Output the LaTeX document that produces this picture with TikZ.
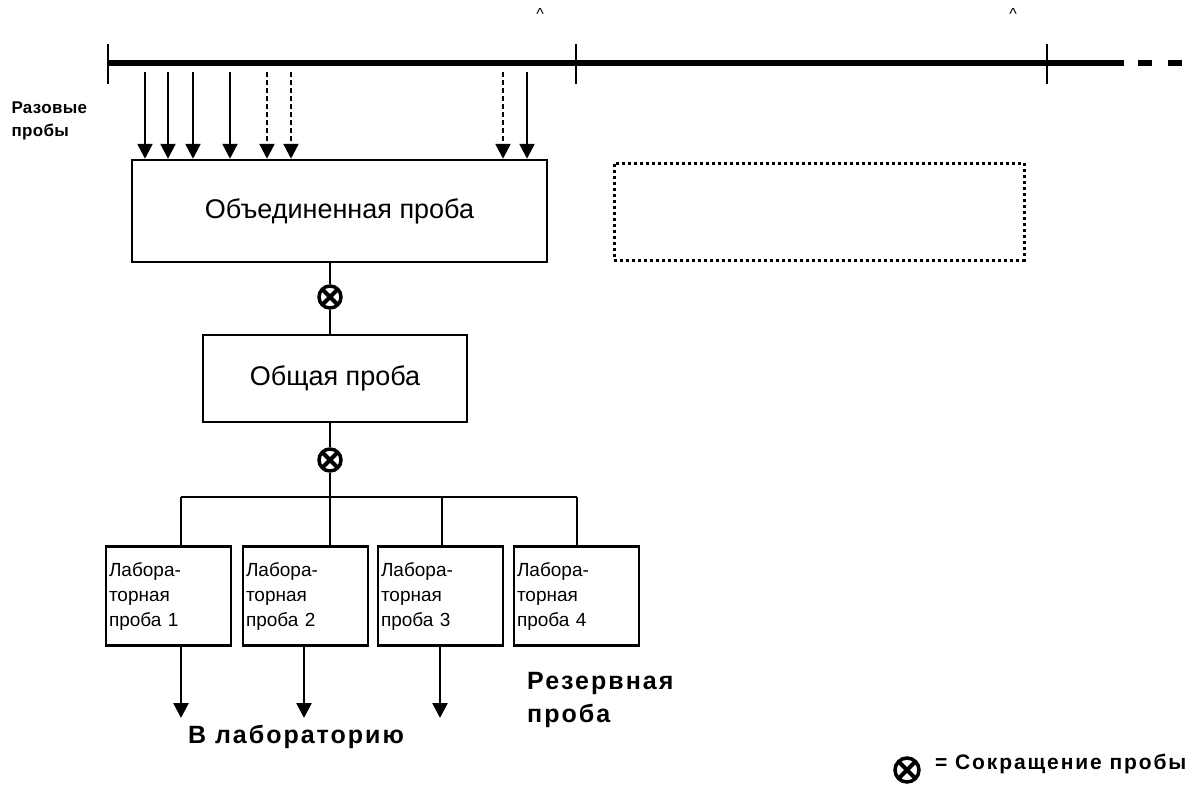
\documentclass[tikz,border=0pt]{standalone}
\usepackage{fontspec}
\setmainfont{Liberation Sans}
\usetikzlibrary{arrows.meta,positioning,calc}

\tikzset{
  probe/.style={line width=2.5pt,-{Triangle[width=15pt,length=15pt]}},
  link/.style={line width=2.5pt},
  boxnode/.style={draw,line width=2.5pt,inner sep=0pt,font=\fontsize{27}{31}\selectfont},
  labbox/.style={draw,line width=2.5pt,minimum width=125pt,minimum height=99pt,
    text width=119pt,inner xsep=3pt,align=left,font=\fontsize{19}{25}\selectfont},
  reduce/.style={circle,draw,line width=3.5pt,minimum size=22pt,inner sep=0pt,
    path picture={\draw[line width=4pt] (path picture bounding box.north west)--(path picture bounding box.south east)
      (path picture bounding box.north east)--(path picture bounding box.south west);}},
  boldlabel/.style={font=\bfseries\fontsize{17}{23}\selectfont\addfontfeature{LetterSpace=2},align=left},
  bigbold/.style={font=\bfseries\fontsize{25}{33}\selectfont\addfontfeature{LetterSpace=8},align=left},
  keylabel/.style={font=\bfseries\fontsize{21}{25}\selectfont\addfontfeature{LetterSpace=9}}
}

\begin{document}
\begin{tikzpicture}[x=1pt,y=-1pt]
  \useasboundingbox (0,0) rectangle (1202,793);
  \draw[line width=6pt] (108,63) -- (1124,63);
  \foreach \x in {1138,1168} \draw[line width=6pt] (\x,63) -- ++(14,0);
  \foreach \x in {108,576,1047} \draw[line width=2.5pt] (\x,44) -- (\x,84);
  \foreach \x in {540,1013} \node at (\x,14) {\fontsize{16}{16}\selectfont\textasciicircum};
  \node[boldlabel,anchor=west] (single) at (8,121) {Разовые\\пробы};
  \node[boxnode,minimum width=415pt,minimum height=102pt] (merged) at (339.5,211) {Объединенная проба};
  \node[draw,line width=3pt,dash pattern=on 3pt off 3pt,minimum width=410pt,minimum height=97pt] (next) at (819,211.5) {};
  \foreach \x in {145,168,193,230,527} \draw[probe] (\x,72) -- (\x,0 |- merged.north);
  \foreach \x in {267,291,503} \draw[probe,dash pattern=on 5pt off 3pt] (\x,72) -- (\x,0 |- merged.north);
  \node[reduce] (cut1) at (330,297) {};
  \node[boxnode,minimum width=264pt,minimum height=87pt] (common) at (335,378.5) {Общая проба};
  \node[reduce] (cut2) at (330,460) {};
  \draw[link] (cut1 |- merged.south) -- (cut1) -- (cut1 |- common.north);
  \foreach \i/\x in {1/168.5,2/305.5,3/440.5,4/576.5}
    \node[labbox] (lab\i) at (\x,596) {Лабора-\\торная\\проба \i};
  \foreach \i/\x in {1/181,2/330,3/442,4/577} \coordinate (b\i) at (\x,497);
  \draw[link] (cut2 |- common.south) -- (cut2) -- (b2);
  \draw[link] (b1) -- (b4);
  \foreach \i in {1,...,4} \draw[link] (b\i) -- (b\i |- lab\i.north);
  \foreach \i/\x in {1/181,2/304,3/440} {
    \coordinate (out\i) at (\x,718);
    \draw[probe] (out\i |- lab\i.south) -- (out\i);
  }
  \node[bigbold] (tolab) at (296,737) {В лабораторию};
  \node[bigbold,anchor=north west,inner sep=0pt] (reserve) at (527,672) {Резервная\\проба};
  \node[reduce,minimum size=24pt,line width=3.5pt] (key) at (907,770) {};
  \node[keylabel,anchor=west,inner sep=0pt] (keytext) at (935,764) {= Сокращение пробы};
\end{tikzpicture}
\end{document}
